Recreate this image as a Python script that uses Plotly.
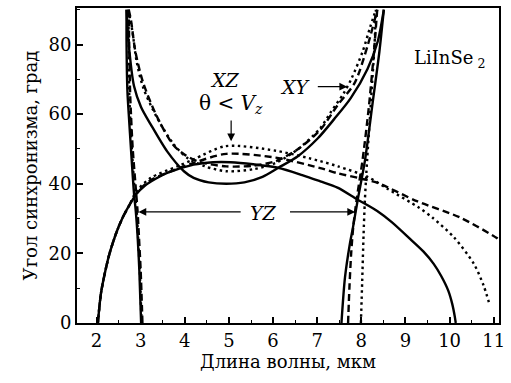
import plotly.graph_objects as go

# XZ (theta < Vz) curves: rise from ~2 um, hump near 5 um
hump_solid_x = [2.03, 2.10, 2.20, 2.30, 2.45, 2.60, 2.75, 2.90, 3.10, 3.35, 3.60, 4.20, 4.64, 5.04,
                5.55, 6.11, 6.66, 7.07, 7.46, 7.91, 8.36, 8.69, 9.11, 9.41, 9.64, 9.81, 9.97,
                10.06, 10.12, 10.14]
hump_solid_y = [0, 8.5, 15, 20.2, 26, 30.5, 34, 37, 39.5, 41.5, 43.1, 45.5, 46.2, 46.2,
                45.6, 44.6, 42.5, 40.7, 38.9, 35.5, 32.2, 29, 24.1, 20.5, 17, 13.5, 9.3,
                5.5, 1.7, 0]
hump_dash_x = [2.03, 2.10, 2.20, 2.30, 2.45, 2.60, 2.75, 2.90, 3.22, 3.83, 4.20, 4.94, 6.06,
               7.07, 7.47, 7.99, 8.36, 9.26, 10.24, 11.07, 11.12]
hump_dash_y = [0, 8.5, 15, 20.2, 26, 30.5, 34, 37.3, 41, 44.3, 46, 48.6, 47.5,
               44.5, 43, 41.5, 40.3, 35, 30.3, 24.4, 23.8]
hump_dot_x = [2.03, 2.10, 2.20, 2.30, 2.45, 2.60, 2.75, 2.90, 3.23, 3.83, 4.20, 4.92, 6.06,
              7.07, 7.47, 8.14, 8.60, 9.31, 9.61, 10.10, 10.55, 10.77, 10.89]
hump_dot_y = [0, 8.5, 15, 20.2, 26, 30.5, 34, 37.8, 41.7, 45, 47, 50.8, 49.5,
              46.5, 45, 42, 38.5, 33.1, 30.3, 24.6, 17, 10.8, 6]

# XY curves: U shape between ~2.7 and ~8.5 um
u_solid_x = [2.68, 2.73, 2.85, 3.01, 3.23, 3.60, 3.98, 4.20, 4.54, 4.94, 5.35, 5.76, 6.12,
             6.57, 7.01, 7.38, 7.76, 8.14, 8.37, 8.51]
u_solid_y = [90, 80, 68, 62, 57, 49.3, 43.6, 41.7, 40.4, 40, 40.4, 42, 44.6,
             48, 53, 58.5, 64.6, 73, 80.8, 90]
u_dash_x = [2.73, 2.78, 2.88, 3.05, 3.35, 3.73, 3.99, 4.33, 4.94, 5.56, 6.06, 6.57, 7.07,
            7.47, 7.85, 8.15, 8.36]
u_dash_y = [90, 87, 78, 69.3, 59.8, 51.3, 48.4, 46.3, 45, 45.2, 46.5, 50, 55.5,
            62.7, 69, 80, 90]
u_dot_x = [2.72, 2.81, 2.91, 3.06, 3.37, 3.74, 4.05, 4.46, 4.94, 5.56, 6.06, 6.57, 7.07,
           7.32, 7.60, 7.78, 8.03, 8.20, 8.33]
u_dot_y = [90, 84, 75, 67.5, 59, 51.5, 47.5, 45, 43.6, 44.2, 46, 50, 56,
           60.8, 66, 70.3, 78, 85, 90]

# YZ curves: near-vertical branches
yz_left_y = [0, 15, 25, 32, 37, 50, 60, 66.5, 80, 90]
yz_left_solid_x = [3.01, 2.97, 2.93, 2.89, 2.85, 2.78, 2.73, 2.70, 2.68, 2.68]
yz_left_dash_x = [3.04, 3.00, 2.96, 2.93, 2.90, 2.82, 2.78, 2.76, 2.74, 2.73]
yz_left_dot_x = [3.02, 2.98, 2.94, 2.91, 2.87, 2.80, 2.76, 2.74, 2.73, 2.72]

yz_right_solid_x = [7.55, 7.63, 7.74, 7.81, 7.92, 8.08, 8.26, 8.41, 8.51]
yz_right_solid_y = [0, 13.1, 22.7, 27.4, 35.5, 46.5, 63.6, 78, 90]
yz_right_dash_x = [7.70, 7.73, 7.77, 7.82, 7.90, 8.03, 8.17, 8.28, 8.36]
yz_right_dash_y = [0, 10, 20, 28, 36, 47, 62, 77, 90]
yz_right_dot_x = [7.99, 8.02, 8.05, 8.08, 8.13, 8.19, 8.25, 8.30, 8.33]
yz_right_dot_y = [0, 12, 25, 35, 46.5, 58, 70, 80, 90]

DASH = "7px,4px"
DOT = "2.5px,3.5px"

curves = [
    (hump_solid_x, hump_solid_y, "solid"),
    (hump_dash_x, hump_dash_y, DASH),
    (hump_dot_x, hump_dot_y, DOT),
    (u_solid_x, u_solid_y, "solid"),
    (u_dash_x, u_dash_y, DASH),
    (u_dot_x, u_dot_y, DOT),
    (yz_left_solid_x, yz_left_y, "solid"),
    (yz_left_dash_x, yz_left_y, DASH),
    (yz_left_dot_x, yz_left_y, DOT),
    (yz_right_solid_x, yz_right_solid_y, "solid"),
    (yz_right_dash_x, yz_right_dash_y, DASH),
    (yz_right_dot_x, yz_right_dot_y, DOT),
]

fig = go.Figure()
for xs, ys, dash in curves:
    fig.add_trace(go.Scatter(
        x=xs, y=ys, mode="lines",
        line=dict(color="black", width=2.4, dash=dash, shape="spline", smoothing=0.8),
        showlegend=False, hoverinfo="skip",
    ))

serif = "DejaVu Serif"
txt = dict(family=serif, size=19, color="black")

annotations = [
    dict(x=4.91, y=69.9, text="<i>XZ</i>", showarrow=False, font=txt),
    dict(x=5.05, y=63.0, text="θ < <i>V<sub>z</sub></i>", showarrow=False, font=dict(family=serif, size=20, color="black")),
    dict(x=6.51, y=67.9, text="<i>XY</i>", showarrow=False, font=txt),
    dict(x=5.79, y=31.6, text="<i>YZ</i>", showarrow=False, font=txt),
    dict(x=10.0, y=75.9, text="LiInSe<sub> 2</sub>", showarrow=False, font=dict(family=serif, size=18, color="black")),
]
arrows = [
    ((5.05, 58.6), (5.05, 52.2)),
    ((6.98, 67.9), (7.68, 67.9)),
    ((5.30, 31.9), (2.95, 31.9)),
    ((6.35, 31.9), (7.86, 31.9)),
]
for (x0, y0), (x1, y1) in arrows:
    annotations.append(dict(
        x=x1, y=y1, ax=x0, ay=y0, xref="x", yref="y", axref="x", ayref="y",
        text="", showarrow=True, arrowhead=2, arrowsize=1.3, arrowwidth=1.2, arrowcolor="black",
    ))

fig.update_layout(
    width=511, height=383,
    margin=dict(l=77, r=9, t=6, b=60),
    paper_bgcolor="white", plot_bgcolor="white",
    font=dict(family=serif, color="black"),
    annotations=annotations,
)
fig.update_xaxes(
    range=[1.557, 11.12], tickvals=list(range(2, 12)),
    ticks="inside", ticklen=6, tickwidth=1.5, tickcolor="black",
    minor=dict(dtick=0.5, tick0=0, ticks="inside", ticklen=3, tickwidth=1.2, tickcolor="black"),
    showline=True, linecolor="black", linewidth=2, mirror=True,
    showgrid=False, zeroline=False, ticklabeloverflow="allow",
    tickfont=dict(family=serif, size=18, color="black"),
    title=dict(text="Длина волны, мкм", font=dict(family=serif, size=18, color="black"), standoff=2),
)
fig.update_yaxes(
    range=[0, 90.5], tickvals=[0, 20, 40, 60, 80],
    ticks="inside", ticklen=6, tickwidth=1.5, tickcolor="black",
    minor=dict(dtick=10, tick0=0, ticks="inside", ticklen=3, tickwidth=1.2, tickcolor="black"),
    showline=True, linecolor="black", linewidth=2, mirror=True,
    showgrid=False, zeroline=False,
    tickfont=dict(family=serif, size=18, color="black"),
    title=dict(text="Угол синхронизма, град", font=dict(family=serif, size=18, color="black"), standoff=6),
)

# page body has a default margin; remove it so the figure sits at the window corner
fig.write_html("out.html", config={"displayModeBar": False},
               post_script="document.body.style.margin='0';")
